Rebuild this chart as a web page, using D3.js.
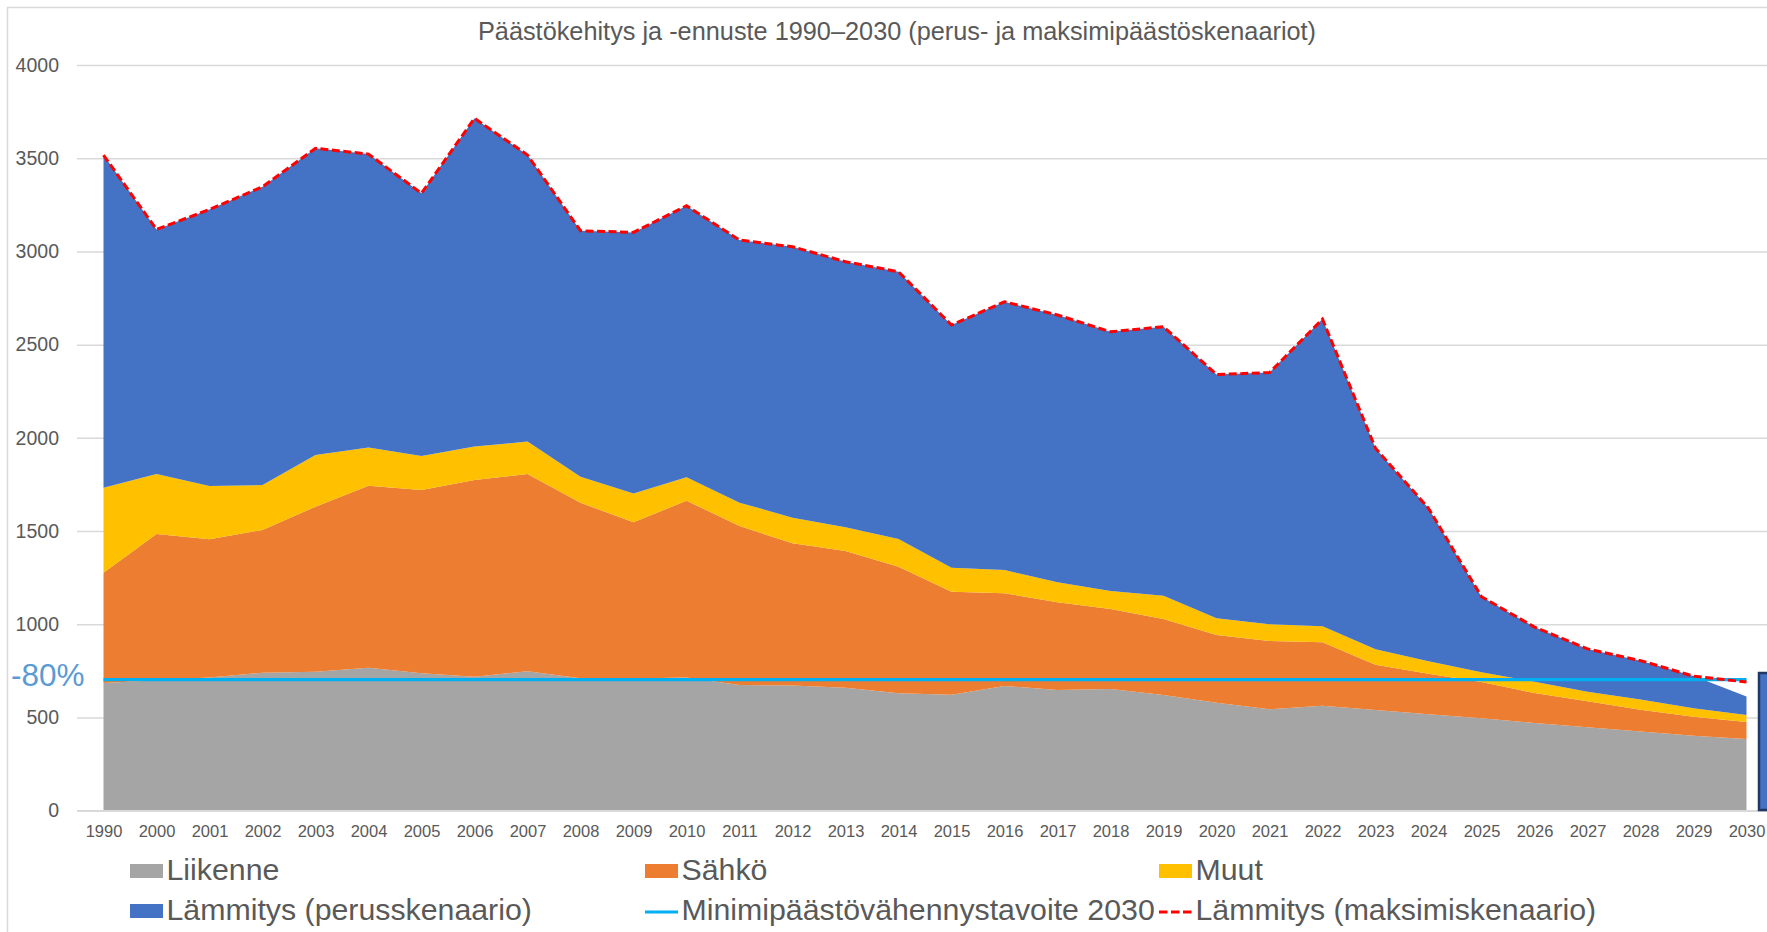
<!DOCTYPE html>
<html>
<head>
<meta charset="utf-8">
<script src="https://cdn.jsdelivr.net/npm/d3@7"></script>
<style>
  html, body { margin: 0; padding: 0; background: #fff; }
  svg { display: block; font-family: "Liberation Sans", Arial, sans-serif; }
</style>
</head>
<body>
<svg id="chart" width="1767" height="932"></svg>
<script>
// ---- Data ----
const years = ["1990","2000","2001","2002","2003","2004","2005","2006","2007","2008","2009","2010",
  "2011","2012","2013","2014","2015","2016","2017","2018","2019","2020","2021","2022","2023","2024",
  "2025","2026","2027","2028","2029","2030"];
const liikenne = [685,700,715,740,746,767,737,719,748,710,709,714,674,671,660,630,622,669,647,653,621,579,544,563,540,517,496,470,448,425,402,385];
const sahko    = [592,784,741,766,885,976,983,1055,1058,942,838,949,853,763,733,679,553,497,471,429,407,363,366,341,243,218,194,161,139,117,102,91];
const muut     = [456,322,286,241,277,205,183,179,174,140,155,125,125,138,127,149,128,125,107,96,125,90,90,85,83,66,53,61,51,54,45,37];
const lammitys = [1784,1312,1483,1600,1645,1574,1409,1761,1537,1319,1400,1457,1409,1453,1425,1433,1302,1439,1434,1391,1443,1308,1350,1648,1078,821,405,293,230,209,173,100];
const lammitysMax = [1784,1312,1483,1600,1645,1574,1409,1761,1537,1319,1400,1457,1409,1453,1425,1433,1302,1439,1434,1391,1443,1308,1350,1648,1078,821,405,293,230,209,173,177];
const tavoite2030 = 703;
const yTicks = [0,500,1000,1500,2000,2500,3000,3500,4000];
const seriesNames = ["Liikenne","Sähkö","Muut","Lämmitys (perusskenaario)"];
const lineNames = ["Minimipäästövähennystavoite 2030","Lämmitys (maksimiskenaario)"];
const title = "Päästökehitys ja -ennuste 1990–2030 (perus- ja maksimipäästöskenaariot)";
const targetLabel = "-80%";

// ---- Styles ----
const colors = { "Liikenne":"#a5a5a5", "Sähkö":"#ed7d31", "Muut":"#ffc000", "Lämmitys (perusskenaario)":"#4472c4" };
const textColor = "#595959";

const svg = d3.select("#chart");

// chart border
svg.append("rect").attr("x",7.5).attr("y",7.5).attr("width",1900).attr("height",1000)
  .attr("fill","#fff").attr("stroke","#d9d9d9").attr("stroke-width",1.5);

const x = d3.scalePoint().domain(years).range([103.5, 1746.5]);
const y = d3.scaleLinear().domain([0,4000]).range([810.7, 65]);

// gridlines + y labels
const yAxis = svg.append("g").attr("transform","translate(77,0)")
  .call(d3.axisLeft(y).tickValues(yTicks).tickSize(-(1767-77)).tickPadding(18).tickFormat(d3.format("d")));
yAxis.select(".domain").remove();
yAxis.selectAll(".tick line").attr("stroke","#d9d9d9").attr("stroke-width",1.5);
yAxis.selectAll(".tick text").attr("fill",textColor).style("font-size","19.5px")
  .style("font-family","'Liberation Sans', Arial, sans-serif");

// stacked areas
const rows = years.map((yr,i)=>({year:yr, "Liikenne":liikenne[i], "Sähkö":sahko[i], "Muut":muut[i], "Lämmitys (perusskenaario)":lammitys[i]}));
const stack = d3.stack().keys(seriesNames)(rows);
const area = d3.area().x(d=>x(d.data.year)).y0(d=>y(d[0])).y1(d=>y(d[1]));
svg.append("g").selectAll("path").data(stack).join("path")
  .attr("d",area).attr("fill",d=>colors[d.key]);

// baseline (category axis line)
const xAxis = svg.append("g").attr("transform",`translate(0,${y(0)})`)
  .call(d3.axisBottom(x).tickSize(0).tickPadding(14.5));
xAxis.select(".domain").attr("stroke","#d9d9d9").attr("stroke-width",1.5)
  .attr("d", `M77,0H1767`);
xAxis.selectAll(".tick text").attr("fill",textColor).style("font-size","16.5px")
  .style("font-family","'Liberation Sans', Arial, sans-serif");

// target line
svg.append("line")
  .attr("x1",x(years[0])).attr("x2",x(years[years.length-1]))
  .attr("y1",y(tavoite2030)).attr("y2",y(tavoite2030))
  .attr("stroke","#00b0f0").attr("stroke-width",3.3);

// max scenario dashed line (stacked on top of the other sectors)
const maxTotals = years.map((yr,i)=>({year:yr, v: liikenne[i]+sahko[i]+muut[i]+lammitysMax[i]}));
svg.append("path").datum(maxTotals)
  .attr("d", d3.line().x(d=>x(d.year)).y(d=>y(d.v)))
  .attr("fill","none").attr("stroke","#ff0000").attr("stroke-width",3)
  .attr("stroke-dasharray","8,3.5");

// -80% label
svg.append("text").attr("x",11).attr("y",686).text(targetLabel)
  .attr("fill","#5b9bd5").style("font-size","31.5px");

// title
svg.append("text").attr("x",897).attr("y",40).attr("text-anchor","middle").text(title)
  .attr("fill",textColor).style("font-size","25.3px");

// legend
const legendCols = [130, 645, 1159];
const legendRows = [880, 920];
const legendItems = [
  {name: seriesNames[0], type:"rect", color: colors[seriesNames[0]], c:0, r:0},
  {name: seriesNames[1], type:"rect", color: colors[seriesNames[1]], c:1, r:0},
  {name: seriesNames[2], type:"rect", color: colors[seriesNames[2]], c:2, r:0},
  {name: seriesNames[3], type:"rect", color: colors[seriesNames[3]], c:0, r:1},
  {name: lineNames[0], type:"line", color: "#00b0f0", dash: null, c:1, r:1},
  {name: lineNames[1], type:"line", color: "#ff0000", dash: "8.5,3.5", c:2, r:1}
];
const lg = svg.append("g");
legendItems.forEach(it=>{
  const lx = legendCols[it.c], ly = legendRows[it.r];
  if (it.type === "rect") {
    lg.append("rect").attr("x",lx).attr("y",ly-16).attr("width",33).attr("height",14).attr("fill",it.color);
  } else {
    lg.append("line").attr("x1",lx).attr("x2",lx+33).attr("y1",ly-8).attr("y2",ly-8)
      .attr("stroke",it.color).attr("stroke-width",3).attr("stroke-dasharray",it.dash);
  }
  lg.append("text").attr("x",lx+36.5).attr("y",ly).text(it.name)
    .attr("fill",textColor).style("font-size","30.3px");
});

// dark-bordered box at right edge
svg.append("rect").attr("x",1759).attr("y",673).attr("width",30).attr("height",137)
  .attr("fill","#4472c4").attr("stroke","#203864").attr("stroke-width",2.5);
</script>
</body>
</html>
